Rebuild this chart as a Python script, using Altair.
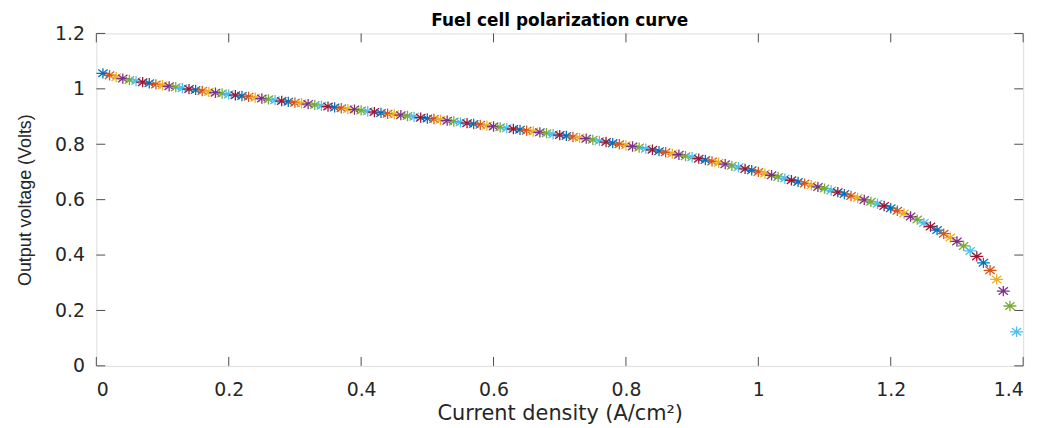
import altair as alt
import pandas as pd

current = [0.01, 0.02, 0.03, 0.04, 0.05, 0.06, 0.07, 0.08, 0.09, 0.10,
           0.11, 0.12, 0.13, 0.14, 0.15, 0.16, 0.17, 0.18, 0.19, 0.20,
           0.21, 0.22, 0.23, 0.24, 0.25, 0.26, 0.27, 0.28, 0.29, 0.30,
           0.31, 0.32, 0.33, 0.34, 0.35, 0.36, 0.37, 0.38, 0.39, 0.40,
           0.41, 0.42, 0.43, 0.44, 0.45, 0.46, 0.47, 0.48, 0.49, 0.50,
           0.51, 0.52, 0.53, 0.54, 0.55, 0.56, 0.57, 0.58, 0.59, 0.60,
           0.61, 0.62, 0.63, 0.64, 0.65, 0.66, 0.67, 0.68, 0.69, 0.70,
           0.71, 0.72, 0.73, 0.74, 0.75, 0.76, 0.77, 0.78, 0.79, 0.80,
           0.81, 0.82, 0.83, 0.84, 0.85, 0.86, 0.87, 0.88, 0.89, 0.90,
           0.91, 0.92, 0.93, 0.94, 0.95, 0.96, 0.97, 0.98, 0.99, 1.00,
           1.01, 1.02, 1.03, 1.04, 1.05, 1.06, 1.07, 1.08, 1.09, 1.10,
           1.11, 1.12, 1.13, 1.14, 1.15, 1.16, 1.17, 1.18, 1.19, 1.20,
           1.21, 1.22, 1.23, 1.24, 1.25, 1.26, 1.27, 1.28, 1.29, 1.30,
           1.31, 1.32, 1.33, 1.34, 1.35, 1.36, 1.37, 1.38, 1.39]

voltage = [1.056, 1.049, 1.042, 1.037, 1.032, 1.028, 1.024, 1.020, 1.016, 1.013,
           1.009, 1.006, 1.002, 0.999, 0.996, 0.992, 0.989, 0.986, 0.983, 0.980,
           0.977, 0.974, 0.971, 0.968, 0.965, 0.962, 0.959, 0.956, 0.953, 0.950,
           0.948, 0.945, 0.942, 0.939, 0.936, 0.933, 0.930, 0.927, 0.925, 0.922,
           0.919, 0.916, 0.913, 0.910, 0.908, 0.905, 0.902, 0.899, 0.896, 0.893,
           0.891, 0.888, 0.885, 0.882, 0.879, 0.876, 0.873, 0.870, 0.867, 0.864,
           0.861, 0.858, 0.855, 0.852, 0.849, 0.846, 0.843, 0.840, 0.836, 0.833,
           0.830, 0.826, 0.823, 0.820, 0.816, 0.812, 0.808, 0.804, 0.800, 0.796,
           0.792, 0.788, 0.784, 0.780, 0.775, 0.771, 0.766, 0.762, 0.757, 0.753,
           0.748, 0.743, 0.738, 0.733, 0.728, 0.722, 0.717, 0.711, 0.706, 0.700,
           0.694, 0.688, 0.682, 0.676, 0.670, 0.664, 0.658, 0.652, 0.646, 0.640,
           0.633, 0.627, 0.620, 0.613, 0.606, 0.599, 0.592, 0.585, 0.577, 0.569,
           0.560, 0.550, 0.539, 0.528, 0.516, 0.503, 0.490, 0.477, 0.463, 0.449,
           0.433, 0.415, 0.395, 0.372, 0.345, 0.312, 0.270, 0.216, 0.123]

x_ticks = [0, 0.2, 0.4, 0.6, 0.8, 1.0, 1.2, 1.4]
y_ticks = [0, 0.2, 0.4, 0.6, 0.8, 1.0, 1.2]

matlab_colors = ["#0072BD", "#D95319", "#EDB120", "#7E2F8E",
                 "#77AC30", "#4DBEEE", "#A2142F"]

W, H = 934, 335
TL = 9
AXIS_COLOR = "#4d4d4d"
LABEL_FONT = "DejaVu Sans"

df = pd.DataFrame({
    "current": current,
    "voltage": voltage,
    "ci": [i % 7 for i in range(len(current))],
})
xt = pd.DataFrame({"current": x_ticks})
yt = pd.DataFrame({"voltage": y_ticks})

xscale = alt.Scale(domain=[0, 1.4], nice=False, zero=False)
yscale = alt.Scale(domain=[0, 1.2], nice=False, zero=False)

xaxis = alt.Axis(values=x_ticks, format="~g", ticks=False, tickSize=0,
                 domain=False, grid=False, labelPadding=15,
                 labelFont=LABEL_FONT, labelFontSize=19,
                 labelColor="#262626",
                 title="Current density (A/cm²)",
                 titleFont=LABEL_FONT, titleFontSize=21,
                 titleFontWeight="normal", titleColor="#262626",
                 titlePadding=3)
yaxis = alt.Axis(values=y_ticks, format="~g", ticks=False, tickSize=0,
                 domain=False, grid=False, labelPadding=12,
                 labelFont=LABEL_FONT, labelFontSize=19,
                 labelColor="#262626",
                 title="Output voltage (Volts)",
                 titleFont="Liberation Sans", titleFontSize=18,
                 titleFontWeight="normal", titleColor="#262626",
                 titlePadding=20)

star = ("M-1,0L1,0M0,-0.8L0,0.8M-0.72,-0.58L0.72,0.58M-0.72,0.58L0.72,-0.58")

points = alt.Chart(df).mark_point(
    shape=star, filled=False, size=170, strokeWidth=1.3, opacity=1
).encode(
    x=alt.X("current:Q", scale=xscale, axis=xaxis),
    y=alt.Y("voltage:Q", scale=yscale, axis=yaxis),
    color=alt.Color("ci:N", scale=alt.Scale(domain=list(range(7)),
                                            range=matlab_colors), legend=None),
    order=alt.Order("current:Q"),
)

bottom_ticks = alt.Chart(xt).mark_rule(color=AXIS_COLOR, strokeWidth=1).encode(
    x=alt.X("current:Q", scale=xscale, axis=xaxis),
    y=alt.value(H), y2=alt.value(H - TL))
top_ticks = alt.Chart(xt).mark_rule(color=AXIS_COLOR, strokeWidth=1).encode(
    x=alt.X("current:Q", scale=xscale, axis=xaxis),
    y=alt.value(0), y2=alt.value(TL))
left_ticks = alt.Chart(yt).mark_rule(color=AXIS_COLOR, strokeWidth=1).encode(
    y=alt.Y("voltage:Q", scale=yscale, axis=yaxis),
    x=alt.value(0), x2=alt.value(TL))
right_ticks = alt.Chart(yt).mark_rule(color=AXIS_COLOR, strokeWidth=1).encode(
    y=alt.Y("voltage:Q", scale=yscale, axis=yaxis),
    x=alt.value(W), x2=alt.value(W - TL))

chart = alt.layer(points, bottom_ticks, top_ticks, left_ticks, right_ticks).properties(
    width=W, height=H,
    title=alt.TitleParams("Fuel cell polarization curve", font=LABEL_FONT,
                          fontSize=17, fontWeight="bold", color="#000000",
                          anchor="middle", offset=-6),
    autosize=alt.AutoSizeParams(type="none"),
    padding={"left": 89, "top": 24, "right": 20, "bottom": 61},
).configure_view(
    stroke=AXIS_COLOR, strokeWidth=1.2
).configure(background="white")

chart.save("out.html", embed_options={"renderer": "svg", "actions": False})
